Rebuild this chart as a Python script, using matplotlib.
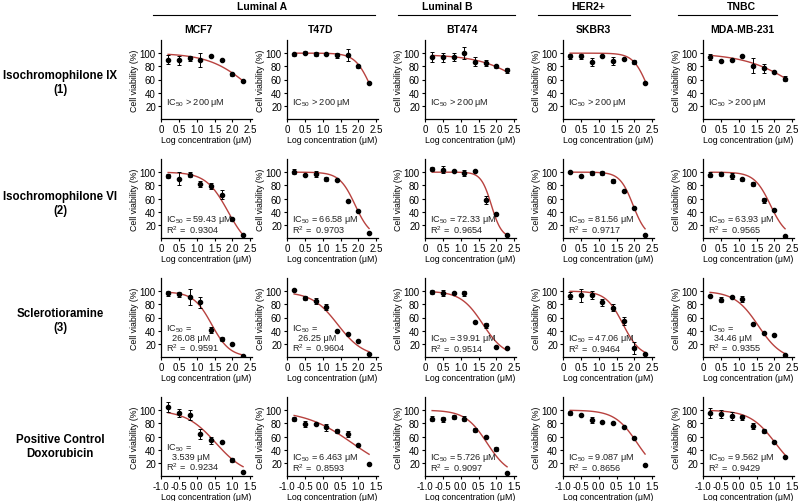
import numpy as np
import matplotlib.pyplot as plt
from matplotlib.lines import Line2D

plt.rcParams['font.family'] = ['Liberation Sans', 'DejaVu Sans']
plt.rcParams['mathtext.fontset'] = 'custom'
plt.rcParams['mathtext.rm'] = 'Liberation Sans'

# ---- data ----
groups = ['Luminal A', 'Luminal B', 'HER2+', 'TNBC']
cells = ['MCF7', 'T47D', 'BT474', 'SKBR3', 'MDA-MB-231']
compounds = ['Isochromophilone IX\n(1)', 'Isochromophilone VI\n(2)',
             'Sclerotioramine\n(3)', 'Positive Control\nDoxorubicin']

log_conc = [0.2, 0.5, 0.8, 1.1, 1.4, 1.7, 2.0, 2.3]
log_conc_dox = [-0.8, -0.5, -0.2, 0.1, 0.4, 0.7, 1.0, 1.3]

# Isochromophilone IX (1)
viab_1 = [[90, 89, 92, 90, 95, 89, 68, 58],
          [98, 101, 99, 99, 97, 97, 80, 55],
          [94, 94, 94, 100, 87, 85, 80, 74],
          [95, 95, 86, 95, 88, 91, 87, 55],
          [94, 88, 90, 96, 81, 77, 71, 61]]
err_1 = [[7, 7, 4, 11, 0, 0, 2, 1],
         [3, 3, 3, 2, 4, 9, 2, 1],
         [8, 7, 6, 9, 7, 5, 2, 4],
         [4, 4, 6, 1, 6, 2, 3, 1],
         [4, 1, 1, 0, 11, 7, 1, 4]]
fit_1 = [(100, 0, 2.48, 0.76), (100, 0, 2.34, 2.0), (98, 0, 2.95, 0.66),
         (100, 0, 2.365, 2.16), (100, 0, 2.66, 0.59)]

# Isochromophilone VI (2)
viab_2 = [[94, 90, 96, 82, 79, 66, 29, 4],
          [101, 96, 97, 89, 88, 56, 41, 7],
          [105, 104, 102, 99, 102, 58, 37, 4],
          [100, 94, 99, 99, 86, 72, 46, 4],
          [96, 97, 94, 89, 82, 57, 43, 3]]
err_2 = [[3, 10, 4, 4, 5, 7, 1, 0],
         [4, 1, 5, 3, 2, 1, 2, 0],
         [3, 5, 2, 5, 0, 6, 1, 0],
         [2, 0, 3, 3, 3, 0, 1, 0],
         [4, 3, 4, 2, 3, 4, 1, 0]]
fit_2 = [(100, -20, 1.88, 1.4), (100, 0, 1.91, 1.98), (100, 0, 1.86, 3.0),
         (100, 0, 1.963, 2.34), (100, 0, 1.89, 1.92)]

# Sclerotioramine (3)
viab_3 = [[97, 95, 91, 83, 41, 27, 20, 2],
          [102, 89, 85, 76, 39, 35, 25, 5],
          [99, 97, 97, 97, 53, 48, 15, 13],
          [93, 94, 94, 83, 75, 55, 14, 4],
          [93, 87, 91, 88, 50, 36, 33, 3]]
err_3 = [[4, 4, 12, 8, 5, 3, 0, 0],
         [2, 3, 4, 5, 0, 0, 0, 0],
         [3, 5, 1, 4, 0, 4, 0, 0],
         [5, 10, 6, 5, 5, 6, 9, 0],
         [1, 4, 2, 5, 0, 0, 0, 0]]
fit_3 = [(99, 0, 1.42, 1.7), (99, 0, 1.42, 1.2), (100, 0, 1.62, 1.4),
         (100, 0, 1.68, 1.8), (100, -5, 1.55, 1.3)]

# Doxorubicin
viab_4 = [[105, 96, 93, 64, 54, 52, 25, 6],
          [87, 79, 79, 74, 68, 64, 47, 18],
          [87, 86, 89, 87, 70, 60, 41, 5],
          [95, 92, 85, 82, 80, 74, 58, 16],
          [96, 94, 91, 89, 76, 69, 52, 29]]
err_4 = [[8, 6, 8, 8, 5, 0, 3, 0],
         [3, 4, 0, 5, 3, 5, 0, 0],
         [4, 4, 3, 4, 3, 0, 3, 0],
         [3, 0, 4, 0, 0, 0, 0, 0],
         [8, 6, 6, 4, 4, 3, 0, 0]]
fit_4 = [(100, 0, 0.54, 1.03), (100, 0, 0.827, 0.65), (100, 0, 0.74, 1.41),
         (100, 0, 1.08, 1.37), (100, 0, 1.029, 1.21)]

ic50_1 = ['> 200 μM'] * 5
ic50_2 = ['59.43 μM', '66.58 μM', '72.33 μM', '81.56 μM', '63.93 μM']
ic50_3 = ['26.08 μM', '26.25 μM', '39.91 μM', '47.06 μM', '34.46 μM']
ic50_4 = ['3.539 μM', '6.463 μM', '5.726 μM', '9.087 μM', '9.562 μM']
r2_2 = ['0.9304', '0.9703', '0.9654', '0.9717', '0.9565']
r2_3 = ['0.9591', '0.9604', '0.9514', '0.9464', '0.9355']
r2_4 = ['0.9234', '0.8593', '0.9097', '0.8656', '0.9429']
wrap_3 = [True, True, False, False, True]
wrap_4 = [True, False, False, False, False]

rows = [(viab_1, err_1, fit_1, ic50_1, None, [False] * 5),
        (viab_2, err_2, fit_2, ic50_2, r2_2, [False] * 5),
        (viab_3, err_3, fit_3, ic50_3, r2_3, wrap_3),
        (viab_4, err_4, fit_4, ic50_4, r2_4, wrap_4)]

# ---- layout (pixel positions on 800x502 canvas) ----
W, H = 800, 502
fig = plt.figure(figsize=(8, 5.02), dpi=100)

def fx(p):
    return p / W

def fy(p):
    return 1 - p / H

col_left = [161, 287, 425, 563, 703]
row_base = [120, 239, 358, 477]
ax_w, ax_h = 91, 79
red = '#b8423f'

for r, (viab, err, fit, ic50, r2, wrap) in enumerate(rows):
    xs = log_conc_dox if r == 3 else log_conc
    for c in range(5):
        ax = fig.add_axes([fx(col_left[c]), fy(row_base[r]), ax_w / W, ax_h / H])
        top, bot, lc, h = fit[c]
        xf = np.linspace(xs[0], xs[-1], 100)
        yf = bot + (top - bot) / (1 + 10 ** ((xf - lc) * h))
        ax.plot(xf, yf, color=red, lw=1.0, zorder=2)
        ax.errorbar(xs, viab[c], yerr=err[c], fmt='o', color='black', ms=3.0,
                    elinewidth=0.7, capsize=1.5, capthick=0.7, zorder=3)

        ax.set_ylim(0, 120)
        ax.set_yticks([20, 40, 60, 80, 100])
        if r == 3:
            ax.set_xlim(-1.0, 1.55)
            ticks = [-1.0, -0.5, 0.0, 0.5, 1.0, 1.5]
            ax.set_xticks(ticks)
            ax.set_xticklabels(['%.1f' % t for t in ticks])
        else:
            ax.set_xlim(0, 2.55)
            ax.set_xticks([0, 0.5, 1.0, 1.5, 2.0, 2.5])
            ax.set_xticklabels(['0', '0.5', '1.0', '1.5', '2.0', '2.5'])
        for s in ['top', 'right']:
            ax.spines[s].set_visible(False)
        for s in ['left', 'bottom']:
            ax.spines[s].set_linewidth(0.9)
        ax.tick_params(length=2.5, width=0.8, labelsize=7, pad=1.2)
        ax.set_xlabel('Log concentration (μM)', fontsize=6.3, labelpad=0.5)
        ax.set_ylabel('Cell viability (%)', fontsize=6.3, labelpad=0.5)

        tr = ax.get_yaxis_transform()
        kw = dict(transform=tr, fontsize=6.6, va='center', ha='left', color='#222222')
        if r2 is None:
            ax.text(0.05, 26, 'IC$_{50}$ ' + ic50[c], **kw)
        elif wrap[c]:
            ax.text(0.05, 44, 'IC$_{50}$ =', **kw)
            ax.text(0.12, 29, ic50[c], **kw)
            ax.text(0.05, 15, 'R$^{2}$ =  ' + r2[c], **kw)
        else:
            ax.text(0.05, 29, 'IC$_{50}$ = ' + ic50[c], **kw)
            ax.text(0.05, 14, 'R$^{2}$ =  ' + r2[c], **kw)

# column headers
group_x = [262, 447, 588, 741]
group_lines = [(153, 375), (398, 515), (538, 630), (678, 777)]
for g, gx, (x0, x1) in zip(groups, group_x, group_lines):
    fig.text(fx(gx), fy(7), g, ha='center', va='center', fontsize=7.5, fontweight='bold')
    fig.add_artist(Line2D([fx(x0), fx(x1)], [fy(16), fy(16)], color='black', lw=0.8))

cell_x = [198, 321, 462, 593, 742]
for name, cx in zip(cells, cell_x):
    fig.text(fx(cx), fy(30), name, ha='center', va='center', fontsize=7.5, fontweight='bold')

# row labels
row_y = [83, 204, 321, 447]
for lab, ry in zip(compounds, row_y):
    fig.text(fx(60), fy(ry), lab, ha='center', va='center', fontsize=8.3,
             fontweight='bold', linespacing=1.25)

fig.savefig('out.png', dpi=100)
